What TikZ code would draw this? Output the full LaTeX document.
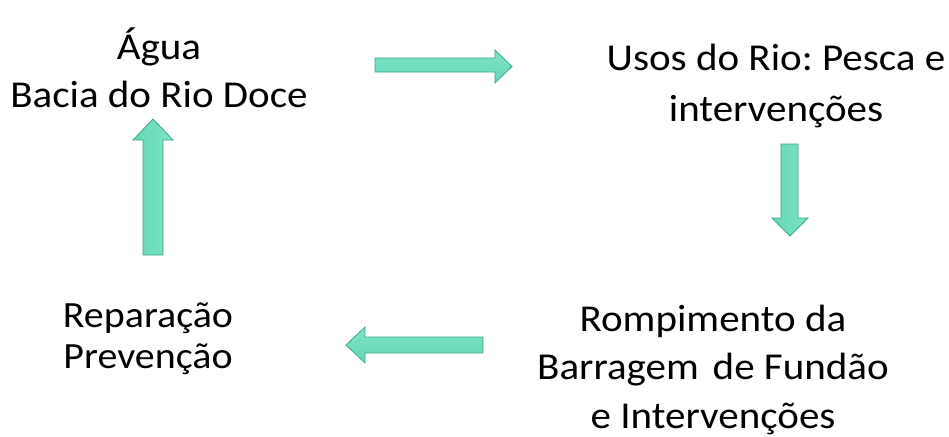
\documentclass[tikz,border=0pt]{standalone}
\usepackage{fontspec}
\setmainfont{Carlito}[FakeStretch=1.08]
\frenchspacing
\definecolor{arrfill}{HTML}{63D8B7}
\definecolor{arrlight}{HTML}{7FE2C6}
\definecolor{arrdraw}{HTML}{3CA98A}
\begin{document}
\begin{tikzpicture}[x=1pt,y=-1pt,
  lbl/.style={inner sep=0pt,align=center,font=\fontsize{38}{48}\selectfont},
  blockarrow/.style={draw=arrdraw,line width=0.8pt,line join=miter},
  harrow/.style={blockarrow,top color=arrlight,bottom color=arrfill},
  varrow/.style={blockarrow,left color=arrfill,right color=arrlight}]
\useasboundingbox (0,0) rectangle (949,436);
\node[lbl] (agua) at (159,67.5) {Água\\Bacia do Rio Doce};
\node[lbl,font=\fontsize{38}{51}\selectfont] (usos) at (776,85.5) {Usos do Rio: Pesca e\\intervenções};
\node[lbl,font=\fontsize{38}{48.5}\selectfont] (rompimento) at (713,369.5) {Rompimento da\\Barragem\hspace{0.12em} de Fundão\\e Intervenções};
\node[lbl,font=\fontsize{37}{41.5}\selectfont] (reparacao) at (148,338.5) {Reparação\\Prevenção};
% right arrow
\draw[harrow] (375,58) -- (495,58) -- (495,50) -- (512,66.5) -- (495,83) -- (495,72) -- (375,72) -- cycle;
% down arrow
\draw[varrow] (781,144) -- (798,144) -- (798,218) -- (808,218) -- (790,236) -- (772,218) -- (781,218) -- cycle;
% left arrow
\draw[harrow] (483,337) -- (365,337) -- (365,327) -- (346,345) -- (365,363) -- (365,353) -- (483,353) -- cycle;
% up arrow
\draw[varrow] (143,255) -- (143,140) -- (133,140) -- (153,119) -- (173,140) -- (163,140) -- (163,255) -- cycle;
\end{tikzpicture}
\end{document}
